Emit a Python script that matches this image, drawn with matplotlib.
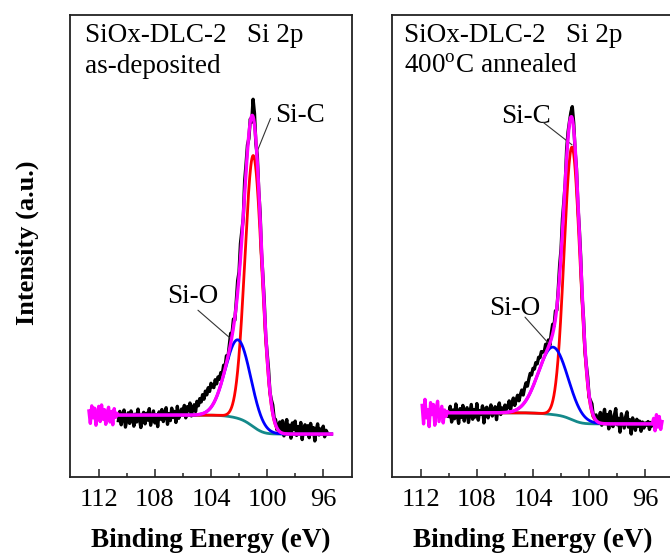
import numpy as np
import matplotlib
matplotlib.use("Agg")
import matplotlib.pyplot as plt

plt.rcParams["font.family"] = ["Liberation Serif", "DejaVu Serif"]
plt.rcParams["mathtext.fontset"] = "custom"
plt.rcParams["mathtext.rm"] = "Liberation Serif"

# ---------------- fitted components (centre eV, sigma eV, height a.u.) ----------------
red_L = (100.98, 0.60, 58.7)     # Si-C, as-deposited
blue_L = (102.07, 0.90, 17.0)    # Si-O, as-deposited
bg_L = (13.4, 9.3)               # Shirley background: high-BE level, low-BE level
fit_range_L = (110.6, 95.4)

red_R = (101.22, 0.56, 59.0)     # Si-C, 400 C annealed
blue_R = (102.57, 1.05, 14.6)    # Si-O, 400 C annealed
bg_R = (13.9, 11.5)
fit_range_R = (110.0, 95.5)

# ---------------- measured spectra: deviation of counts from the fit envelope ----------------
data_range_L = (110.6, 95.7)
resid_L = [
    -1.2, 0.8, -2.1, -0.4, 1.1, -2.6, -1.0, 0.5, -1.8, 0.9,
    -0.3, -2.4, 0.2, -1.5, 1.3, -0.8, -2.7, -0.2, 0.6, -1.9,
    0.4, -1.1, 1.4, -2.2, -0.6, 0.9, -1.7, 0.1, -2.5, 0.7,
    -0.9, 1.2, -1.4, -0.1, 1.6, -2.0, 0.3, -1.2, 1.5, -0.5,
    0.8, -1.6, 1.9, -0.7, 0.4, 1.3,
    0.2, 2.1, -0.6, 1.8, 0.9, 2.6, -0.2, 1.4, 2.2, 0.7, 2.9,
    1.9, 3.4, 2.6, 4.1, 3.0, 4.6, 3.6, 4.9, 3.8, 5.2, 4.0, 3.3, 4.4, 2.8, 3.5, 2.1, 2.6,
    1.2, 2.0, 0.4, 1.6, -0.3, 1.1, 2.2, 0.5, 1.8, -0.6,
    0.9, 2.5, 1.0, 3.2, 1.5, -0.4, 2.8, 1.6, 1.3, -1.0,
    0.6, -1.4, 3.8, 2.5, -0.8, 1.3, -0.5, 0.9, -1.1, 0.4,
    1.0, -0.7, 0.6, 1.4, -0.2, 0.8, 1.7, 0.3, 1.1, -0.4, 0.9,
    2.1, 0.3, 2.7, -0.5, 1.5, 3.1, 0.4, 1.9, -0.9, 2.4,
    1.0, 2.8, -0.3, 1.6, 0.2, 2.5, -1.2, 1.3, 2.0, 0.1,
    1.8, -0.8, 2.3, 0.6, 1.4, -1.5, 0.9, 2.2, -0.2, 1.1,
    0.5, 1.7, -0.6, 0.8, 0.2,
]

data_range_R = (110.0, 95.5)
resid_R = [
    -0.8, 1.4, -2.0, 0.6, -1.3, 1.9, -0.4, -2.3, 0.9, -1.0,
    1.6, -1.8, 0.3, 1.1, -2.1, -0.2, 1.8, -1.4, 0.7, -0.9,
    2.0, -1.6, 0.5, -0.3, 1.5, -2.2, 0.8, 1.2, -1.1, 0.4,
    1.7, -0.7, 0.2, 1.3, -1.5, 0.9, 2.1, -0.4, 1.0, 0.3,
    1.6, 0.6,
    1.2, 2.4, 0.5, 1.9, 2.8, 1.1, 2.2, 3.0, 1.6, 2.7,
    3.4, 2.0, 3.1, 3.8, 2.6, 3.5, 4.2, 3.2, 3.9, 3.0,
    3.6, 2.5, 3.1, 2.2, 2.7, 1.8,
    1.1, 2.0, 0.6, 1.5, -0.4, 1.2, 2.1, 0.3, 1.7, -0.6,
    0.8, 2.2, 1.1, 2.6, 0.9, -0.5, 1.8, 1.2, 0.4, 1.0,
    2.6, 1.3, -0.9, 0.5, -1.2, 0.7, 1.4, -0.6, 0.9, -1.0,
    0.3, 1.1, -0.5, 0.8, 1.5, -0.3, 0.6, 1.2, -0.2, 0.7,
    2.3, -0.4, 1.6, 3.1, 0.2, 2.0, -1.1, 2.7, 0.8, -0.6,
    1.9, 3.3, -0.2, 1.2, -1.8, 2.2, 0.6, -0.9, 1.5, 2.6,
    -0.7, 0.9, -2.2, 1.3, 0.1, -1.4, 1.0, -0.5, 0.6, -1.6,
    0.4, -0.9, 0.2, -0.3, 0.5, -1.2, 0.3, -0.4,
]

# raw counts outside the fitting window, drawn with the envelope
edge_range_L = (112.7, 110.7)
edge_L = [0.9, -1.8, 2.0, -0.6, 1.5, -2.2, 0.3, 1.9, -1.4, 2.2, -0.9,
          1.2, -2.0, 0.6, 1.7, -1.5, 0.8, -2.1, 1.4, -0.5, 0.4]
edge_range_R1 = (111.9, 110.1)
edge_R1 = [1.6, -2.4, 2.9, -1.1, 0.7, -3.0, 2.2, -0.4, 1.8, -2.7,
           0.9, 2.5, -1.9, -0.2, 1.4, -2.2, 0.6, -0.8, 0.3]
edge_range_R2 = (95.4, 94.8)
edge_R2 = [1.2, -1.5, 2.0, -0.7, 1.6, -1.2, 0.5]

ticks_major = [112, 108, 104, 100, 96]
ticks_minor = [110, 106, 102, 98]


def gauss(x, p):
    c, s, h = p
    return h * np.exp(-0.5 * ((x - c) / s) ** 2)


def model(red, blue, bg, frange):
    e = np.linspace(frange[0], frange[1], 1500)
    peaks = gauss(e, red) + gauss(e, blue)
    # Shirley background: step proportional to the peak area on the low-BE side
    area = np.concatenate([[0.0], np.cumsum(0.5 * (peaks[1:] + peaks[:-1]) * np.abs(np.diff(e)))])
    frac = (area[-1] - area) / area[-1]
    back = bg[1] + (bg[0] - bg[1]) * frac
    return e, back


def draw_panel(ax, red, blue, bg, frange, drange, resid, edges):
    e, back = model(red, blue, bg, frange)
    r = gauss(e, red)
    b = gauss(e, blue)
    env = back + r + b

    xd = np.linspace(drange[0], drange[1], len(resid))
    env_d = np.interp(xd, e[::-1], env[::-1])
    ax.plot(xd, env_d + np.asarray(resid), color="black", lw=2.4, zorder=2)

    ax.plot(e, back, color="#14898A", lw=2.0, zorder=3)
    ax.plot(e, back + r, color="#FF0000", lw=2.0, zorder=4)
    ax.plot(e, back + b, color="#0000FF", lw=2.0, zorder=4)

    # envelope, joined with raw counts beyond the window
    xs, ys = [], []
    for (rng, vals, side) in edges:
        if side == "high":
            xs.append(np.linspace(rng[0], rng[1], len(vals)))
            ys.append(bg[0] + np.asarray(vals))
    xs.append(e)
    ys.append(env)
    for (rng, vals, side) in edges:
        if side == "low":
            xs.append(np.linspace(rng[0], rng[1], len(vals)))
            ys.append(bg[1] + np.asarray(vals))
    ax.plot(np.concatenate(xs), np.concatenate(ys), color="#FF00FF", lw=2.4, zorder=5)

    ax.set_xlim(114.05, 93.95)
    ax.set_ylim(0, 100)
    ax.set_xticks(ticks_major)
    ax.set_xticks(ticks_minor, minor=True)
    ax.set_xticklabels([str(t) for t in ticks_major])
    ax.set_yticks([])
    ax.tick_params(axis="x", which="both", direction="in", top=False, labelsize=19,
                   pad=9, width=1.1, color="#222222")
    ax.tick_params(axis="x", which="major", length=6)
    ax.tick_params(axis="x", which="minor", length=3)
    for sp in ax.spines.values():
        sp.set_linewidth(1.3)
        sp.set_color("#222222")
    ax.set_xlabel("Binding Energy (eV)", fontsize=19.5, fontweight="bold", labelpad=12)


fig = plt.figure(figsize=(6.7, 5.58), dpi=100)
axL = fig.add_axes([70 / 670, 81 / 558, 282 / 670, 462 / 558])
axR = fig.add_axes([392 / 670, 81 / 558, 282 / 670, 462 / 558])

draw_panel(axL, red_L, blue_L, bg_L, fit_range_L, data_range_L, resid_L,
           [(edge_range_L, edge_L, "high")])
draw_panel(axR, red_R, blue_R, bg_R, fit_range_R, data_range_R, resid_R,
           [(edge_range_R1, edge_R1, "high"), (edge_range_R2, edge_R2, "low")])

fs = 19.5
axL.text(0.053, 0.942, "SiOx-DLC-2   Si 2p", transform=axL.transAxes, fontsize=fs, va="baseline")
axL.text(0.053, 0.874, "as-deposited", transform=axL.transAxes, fontsize=fs, va="baseline")
axR.text(0.041, 0.942, "SiOx-DLC-2   Si 2p", transform=axR.transAxes, fontsize=fs, va="baseline")
axR.text(0.041, 0.874, r"400$^{\mathregular{o}}$C annealed", transform=axR.transAxes,
         fontsize=fs, va="baseline")

line_kw = dict(arrowprops=dict(arrowstyle="-", lw=0.8, color="#333333", shrinkA=0, shrinkB=0))
# Si-C labels
axL.text(99.45, 76.9, "Si-C", fontsize=fs, va="baseline", ha="left")
axL.annotate("", xy=(100.72, 70.4), xytext=(99.76, 77.6), **line_kw)
axR.text(106.3, 76.7, "Si-C", fontsize=fs, va="baseline", ha="left")
axR.annotate("", xy=(101.22, 71.9), xytext=(103.29, 76.8), **line_kw)
# Si-O labels
axL.text(107.15, 37.6, "Si-O", fontsize=fs, va="baseline", ha="left")
axL.annotate("", xy=(102.65, 30.1), xytext=(104.93, 36.1), **line_kw)
axR.text(107.15, 35.0, "Si-O", fontsize=fs, va="baseline", ha="left")
axR.annotate("", xy=(102.65, 28.1), xytext=(104.57, 34.6), **line_kw)

fig.text(27 / 670, 1 - 243 / 558, "Intensity (a.u.)", rotation=90, fontsize=19,
         fontweight="bold", ha="center", va="center")

fig.savefig("out.png", dpi=100)
